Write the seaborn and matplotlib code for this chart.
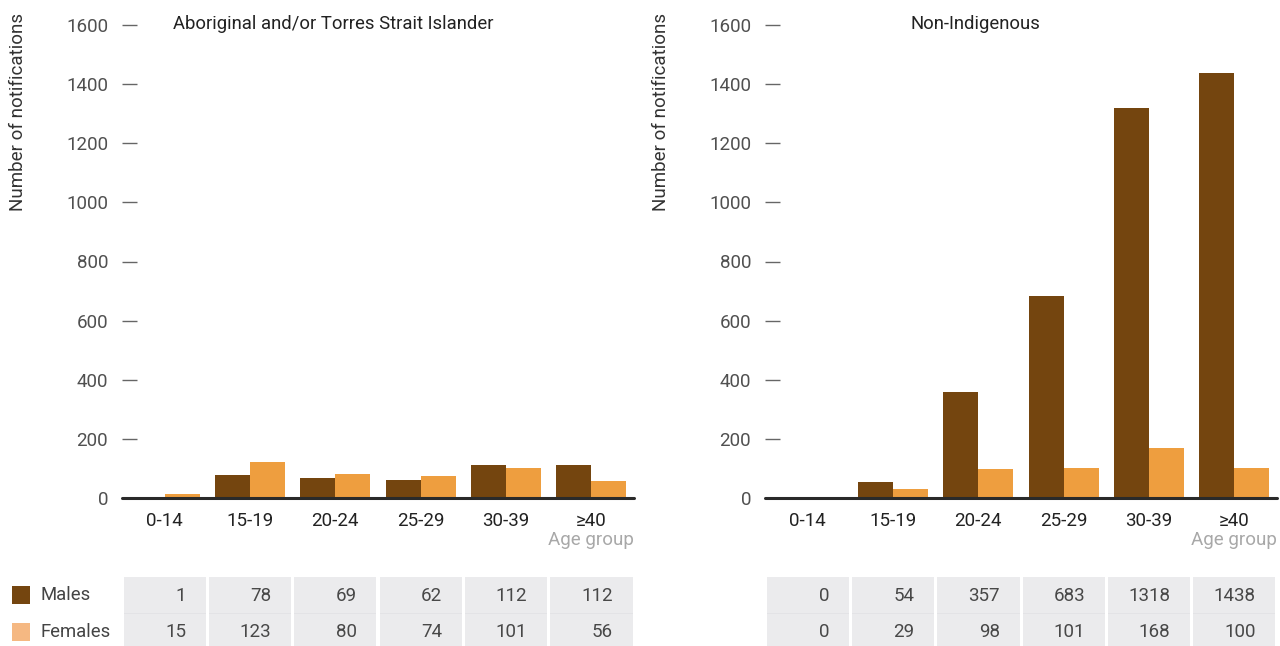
import matplotlib
matplotlib.use("Agg")
import matplotlib.pyplot as plt
import matplotlib.transforms as mtransforms
from matplotlib.patches import Rectangle
import pandas as pd
import seaborn as sns

# Notification counts by age group and sex
age_groups = ["0-14", "15-19", "20-24", "25-29", "30-39", "≥40"]
indigenous_males = [1, 78, 69, 62, 112, 112]
indigenous_females = [15, 123, 80, 74, 101, 56]
non_indigenous_males = [0, 54, 357, 683, 1318, 1438]
non_indigenous_females = [0, 29, 98, 101, 168, 100]
panel_titles = ["Aboriginal and/or Torres Strait Islander", "Non-Indigenous"]
y_ticks = [0, 200, 400, 600, 800, 1000, 1200, 1400, 1600]

MALE = "#74450f"
FEMALE = "#ee9e3f"
FEMALE_KEY = "#f5b882"
CELL = "#ebebed"

sns.set_style("white")
plt.rcParams["font.family"] = ["Roboto", "DejaVu Sans"]

W, H = 1280, 646
fig = plt.figure(figsize=(W / 100, H / 100), dpi=100)


def fx(px):
    return px / W


def fy(py):
    return 1 - py / H


panels = [
    (panel_titles[0], indigenous_males, indigenous_females, 122, 333, 18),
    (panel_titles[1], non_indigenous_males, non_indigenous_females, 765, 975, 661),
]
ax_w = 512
top_px, base_px = 25, 498

for title, males, females, left_px, title_x, ylab_x in panels:
    df = pd.DataFrame({
        "Age group": age_groups * 2,
        "Sex": ["Males"] * len(age_groups) + ["Females"] * len(age_groups),
        "Notifications": males + females,
    })
    ax = fig.add_axes([fx(left_px), fy(base_px), ax_w / W, (base_px - top_px) / H])
    sns.barplot(data=df, x="Age group", y="Notifications", hue="Sex",
                order=age_groups, hue_order=["Males", "Females"],
                palette=[MALE, FEMALE], width=0.82, saturation=1,
                legend=False, ax=ax, linewidth=0)
    ax.set_ylim(0, 1600)
    ax.set_xlim(-0.5, len(age_groups) - 0.5)
    ax.set_yticks(y_ticks)
    ax.set_yticklabels([str(v) for v in y_ticks], fontsize=13.5, color="#505050")
    ax.tick_params(axis="y", left=True, direction="in", length=11, width=1,
                   color="#666666", pad=10)
    ax.tick_params(axis="x", bottom=False, length=0, pad=10, labelsize=13.5,
                   labelcolor="#222222")
    ax.set_xlabel("")
    ax.set_ylabel("")
    for s in ax.spines.values():
        s.set_visible(False)
    ax.axhline(0, color="#2a2a2a", lw=2.2, zorder=3, clip_on=False)
    ax.grid(False)

    fig.text(fx(title_x), fy(24), title, ha="center", va="center",
             fontsize=13.3, color="#222222")
    fig.text(fx(ylab_x), fy(112), "Number of notifications", rotation=90,
             ha="center", va="center", fontsize=13.5, color="#333333")
    ax.text(1.0, fy(540), "Age group", transform=mtransforms.blended_transform_factory(
        ax.transAxes, fig.transFigure), ha="right", va="center",
        fontsize=13.5, color="#a8a8a8")

    # data table below the chart
    tr = mtransforms.blended_transform_factory(ax.transData, fig.transFigure)
    gap = 1.5 / (ax_w / len(age_groups))
    for i in range(len(age_groups)):
        ax.add_patch(Rectangle((i - 0.5 + gap, fy(646)), 1 - 2 * gap, fy(577) - fy(646),
                               transform=tr, facecolor=CELL, edgecolor="none",
                               clip_on=False, zorder=1))
        ax.add_patch(Rectangle((i - 0.5 + gap, fy(613.5)), 1 - 2 * gap, fy(612.5) - fy(613.5),
                               transform=tr, facecolor="#e3e3e6", edgecolor="none",
                               clip_on=False, zorder=1))
        ax.text(i + 0.25, fy(596), str(males[i]), transform=tr, ha="right",
                va="center", fontsize=13.5, color="#484848", zorder=2)
        ax.text(i + 0.25, fy(632), str(females[i]), transform=tr, ha="right",
                va="center", fontsize=13.5, color="#484848", zorder=2)

# legend keys
for py, col, lab in [(595, MALE, "Males"), (632, FEMALE_KEY, "Females")]:
    fig.patches.append(Rectangle((fx(12), fy(py + 9)), fx(30) - fx(12), fy(py - 9) - fy(py + 9),
                                 transform=fig.transFigure, facecolor=col,
                                 edgecolor="none"))
    fig.text(fx(41), fy(py), lab, ha="left", va="center", fontsize=13.3,
             color="#444444")

fig.savefig("out.png", dpi=100)
